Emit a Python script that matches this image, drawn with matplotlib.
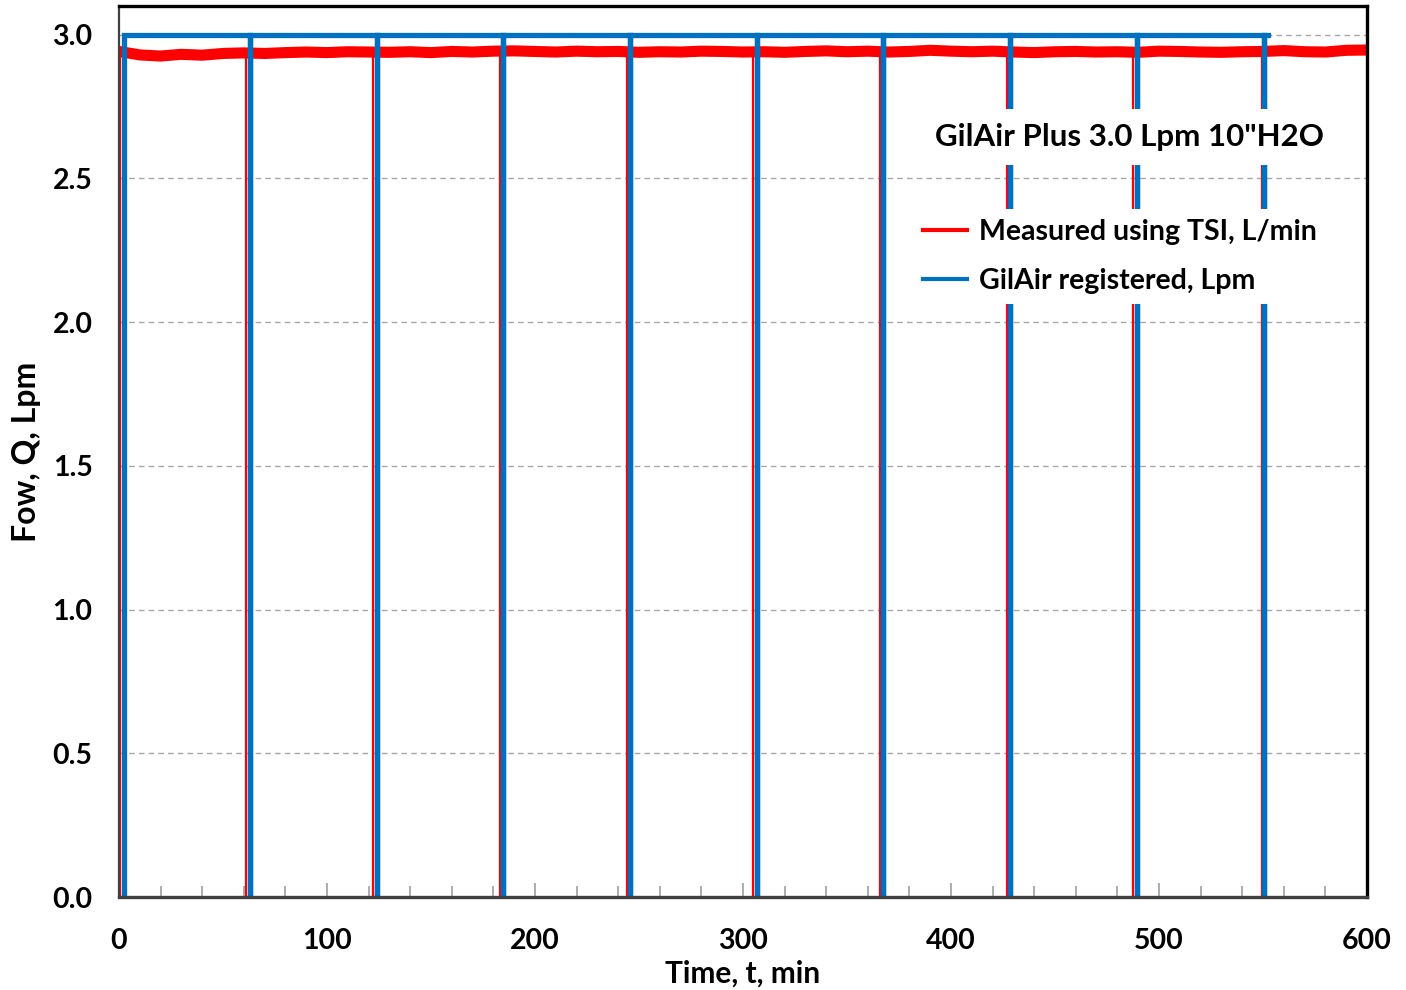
import numpy as np
import matplotlib
matplotlib.use("Agg")
import matplotlib.pyplot as plt
from matplotlib.ticker import MultipleLocator

# ---------------- data ----------------
# TSI measured flow level (L/min), sampled every 10 min from 0 to 600
red_t = list(range(0, 601, 10))
red_level = [2.942, 2.930, 2.926, 2.932, 2.929, 2.935, 2.937, 2.935, 2.938, 2.940,
             2.938, 2.941, 2.940, 2.939, 2.941, 2.938, 2.942, 2.940, 2.943, 2.944,
             2.942, 2.940, 2.943, 2.941, 2.942, 2.939, 2.941, 2.940, 2.943, 2.942,
             2.940, 2.941, 2.939, 2.942, 2.944, 2.941, 2.943, 2.940, 2.942, 2.946,
             2.943, 2.941, 2.943, 2.940, 2.938, 2.941, 2.942, 2.940, 2.941, 2.939,
             2.943, 2.942, 2.940, 2.939, 2.941, 2.942, 2.945, 2.941, 2.940, 2.946,
             2.947]
# times where the measured flow dropped to zero (pump restarts)
red_restart = [0.5, 60.9, 122.1, 183.0, 244.0, 305.0, 366.0, 426.8, 487.7, 549.4]

# GilAir registered flow (Lpm)
blue_level = 3.0
blue_restart = [2.4, 63.0, 123.9, 184.6, 245.7, 306.7, 367.3, 428.4, 489.3, 550.5]
blue_end = 552.5

title_text = 'GilAir Plus 3.0 Lpm 10"H2O'
label_red = "Measured using TSI, L/min"
label_blue = "GilAir registered, Lpm"
xticks = [0, 100, 200, 300, 400, 500, 600]
yticks = [0.0, 0.5, 1.0, 1.5, 2.0, 2.5, 3.0]

# ---------------- figure ----------------
plt.rcParams['font.family'] = ['Lato', 'DejaVu Sans']
plt.rcParams['font.weight'] = 'bold'

fig = plt.figure(figsize=(14.06, 9.90), dpi=100)
ax = fig.add_axes([0.0846, 0.0939, 0.9723 - 0.0846, 0.9939 - 0.0939])

RED = '#ff0000'
BLUE = '#0070c0'

# grid
for y in yticks[1:]:
    ax.axhline(y, color='#a6a6a6', lw=1.0, ls=(0, (4, 3)), zorder=1)

# red level (noisy band) and zero spikes
ax.plot(red_t, red_level, color=RED, lw=8.0, solid_capstyle='butt', zorder=2)
ax.vlines(red_restart, 0, np.interp(red_restart, red_t, red_level),
          color=RED, lw=1.6, zorder=2)

# blue registered series with drops to zero
bx, by = [], []
for i, r in enumerate(blue_restart):
    bx += [r, r, r]
    by += [blue_level, 0.0, blue_level] if i > 0 else [0.0, 0.0, blue_level]
bx.append(blue_end)
by.append(blue_level)
ax.plot(bx, by, color=BLUE, lw=3.8, zorder=3, solid_joinstyle='miter')

# legend handles
ax.plot([], [], color=RED, lw=3.0, label=label_red)
ax.plot([], [], color=BLUE, lw=3.0, label=label_blue)

ax.set_xlim(0, 600)
ax.set_ylim(0, 3.1)
ax.set_xticks(xticks)
ax.set_yticks(yticks)
ax.set_yticklabels([f"{v:.1f}" for v in yticks])
ax.xaxis.set_minor_locator(MultipleLocator(20))
ax.tick_params(axis='x', which='both', direction='in', color='#a0a0a0',
               labelsize=20.5, pad=22, width=1.2)
ax.tick_params(axis='x', which='major', length=10)
ax.tick_params(axis='x', which='minor', length=8)
ax.tick_params(axis='y', length=0, labelsize=20.5, pad=19)

for lab in ax.get_xticklabels() + ax.get_yticklabels():
    lab.set_fontweight('bold')

ax.set_xlabel("Time, t, min", fontsize=21.5, fontweight='bold', labelpad=4)
ax.set_ylabel("Fow, Q, Lpm", fontsize=23, fontweight='bold', labelpad=8)

ax.spines['top'].set_color('black')
ax.spines['right'].set_color('black')
ax.spines['top'].set_linewidth(2.4)
ax.spines['right'].set_linewidth(2.4)
ax.spines['bottom'].set_color('#404040')
ax.spines['bottom'].set_linewidth(2.4)
ax.spines['left'].set_color('#404040')
ax.spines['left'].set_linewidth(1.6)
for s in ax.spines.values():
    s.set_zorder(5)

# title box
ax.text(0.810, 0.853, title_text, transform=ax.transAxes, ha='center', va='center',
        fontsize=22.5, fontweight='bold', zorder=6,
        bbox=dict(facecolor='white', edgecolor='none', boxstyle='square,pad=0.45'))

leg = ax.legend(loc='upper left', bbox_to_anchor=(0.6365, 0.7722), borderaxespad=0,
                frameon=True, fancybox=False, framealpha=1, edgecolor='none',
                prop={'size': 20.5, 'weight': 'bold'}, handlelength=1.55,
                handletextpad=0.4, labelspacing=0.82, borderpad=0.35)
leg.set_zorder(6)

fig.savefig("out.png", dpi=100)
